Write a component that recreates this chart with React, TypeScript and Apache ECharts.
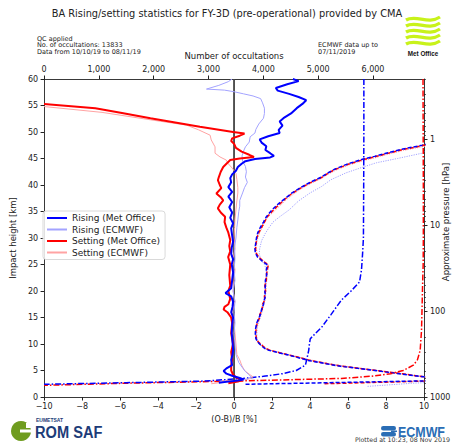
import React, { useEffect, useRef } from 'react';
import * as echarts from 'echarts';

// [km, bias %]
const risingMetOffice: number[][] = [
  [60, 3.1], [59.6, 3.4], [59.0, 2.8], [58.3, 2.2], [57.8, 2.3], [57.2, 2.9], [56.6, 3.4], [56.0, 3.8],
  [55.3, 3.6], [54.5, 3.3], [53.5, 3.0], [52.6, 2.6], [52.0, 2.4], [51.2, 2.55], [50.4, 2.35], [49.8, 2.4],
  [49.2, 1.8], [48.6, 1.35], [48.0, 1.45], [47.3, 1.7], [46.6, 1.65], [46.0, 1.9], [45.5, 2.1], [45.2, 1.9],
  [44.9, 1.1], [44.5, 0.6], [44.0, 0.4], [43.4, 0.2], [42.7, 0.1], [42.0, -0.1], [41.3, -0.2], [40.5, -0.15],
  [39.6, -0.3], [38.7, -0.1], [37.8, -0.3], [36.8, -0.1], [35.8, -0.25], [34.8, -0.1], [33.8, -0.2],
  [32.8, -0.05], [31.8, -0.15], [30.5, -0.1], [29.3, -0.05], [28.2, -0.12], [27.0, -0.15], [26.0, -0.05],
  [25.0, -0.12], [23.5, -0.05], [22.0, -0.1], [20.5, -0.15], [19.6, -0.45], [19.0, -0.15], [18.0, -0.05],
  [17.0, -0.08], [16.0, -0.15], [15.0, -0.05], [13.5, -0.1], [12.0, -0.12], [10.5, -0.08], [9.0, -0.05],
  [8.0, -0.08], [7.0, -0.15], [6.0, -0.1], [5.4, -0.4], [4.9, -0.55], [4.4, -0.4], [4.0, -0.1], [3.6, 0.3],
  [3.3, 0.5], [3.1, 0.2], [2.9, -0.3], [2.7, -0.8],
];
const risingEcmwf: number[][] = [
  [60, -0.1], [59.5, -0.3], [58.8, -0.8], [58.1, -1.45], [57.9, -0.5], [57.6, 0.0], [57.2, 0.5], [56.8, 1.0],
  [56.3, 1.4], [55.5, 1.5], [54.5, 1.6], [53.5, 1.6], [52.6, 1.55], [51.5, 1.3], [50.5, 1.15], [49.8, 1.1],
  [49.1, 0.85], [48.1, 0.8], [47.2, 0.6], [46.4, 0.5], [45.5, 0.42], [44.5, 0.45], [43.5, 0.6], [42.5, 0.65],
  [41.5, 0.6], [40.5, 0.7], [39.5, 0.55], [38.5, 0.45], [37.1, 0.3], [36.0, 0.3], [35.0, 0.25], [33.4, 0.2],
  [32.0, 0.15], [30.0, 0.1], [28.3, 0.03], [26.0, 0.05], [24.0, 0.0], [22.0, 0.05], [20.0, -0.05],
  [18.0, 0.05], [16.0, 0.0], [14.0, 0.05], [12.0, 0.0], [10.0, 0.05], [8.0, 0.1], [6.5, 0.25], [5.5, 0.45],
  [4.8, 0.6], [4.3, 0.75], [3.8, 0.9], [3.4, 0.7], [3.1, 0.0], [2.8, -0.8],
];
const settingMetOffice: number[][] = [
  [55.3, -10], [54.5, -7.3], [53.6, -5.9], [52.6, -4.4], [51.8, -3.1], [51.0, -1.8], [50.0, -0.05],
  [49.7, 0.55], [49.3, 0.3], [48.8, -0.1], [48.3, -0.15], [47.8, 0.0], [47.0, 0.1], [46.3, 0.4], [45.7, 0.8],
  [45.3, 1.05], [45.0, 0.3], [44.7, -0.2], [44.0, -0.4], [43.4, -0.57], [42.5, -0.7], [41.5, -0.8],
  [40.9, -0.85], [40.0, -0.75], [39.4, -0.67], [38.4, -0.93], [37.7, -0.7], [37.1, -0.57], [36.3, -0.75],
  [35.6, -0.85], [34.8, -0.7], [34.0, -0.47], [33.0, -0.5], [32.0, -0.41], [31.0, -0.3], [29.6, -0.2],
  [28.5, -0.25], [27.5, -0.2], [26.4, -0.31], [25.0, -0.2], [23.0, -0.25], [21.0, -0.2], [20.0, -0.3],
  [18.5, -0.2], [17.5, -0.3], [17.0, -0.5], [16.5, -0.55], [16.0, -0.35], [15.0, -0.15], [14.0, -0.1],
  [12.0, -0.15], [10.0, -0.05], [8.5, -0.15], [7.0, -0.1], [6.0, -0.15], [5.0, -0.15], [4.2, -0.05],
  [3.6, 0.15], [3.2, 0.4], [2.9, 0.2], [2.6, -0.3],
];
const settingEcmwf: number[][] = [
  [54.8, -10], [53.7, -6.95], [52.3, -4.4], [51.3, -2.5], [50.4, -1.86], [49.4, -1.26], [48.5, -1.2],
  [47.2, -1.0], [46.0, -1.0], [45.3, -0.74], [44.7, -0.41], [44.0, -0.3], [43.2, -0.1], [42.2, 0.1],
  [41.0, 0.15], [39.5, 0.2], [38.5, 0.2], [37.0, 0.15], [35.3, 0.1], [33.5, 0.05], [32.0, 0.03], [30.0, 0.0],
  [28.0, 0.05], [26.0, -0.05], [24.0, 0.05], [22.0, 0.0], [20.0, -0.05], [18.0, 0.05], [16.0, -0.1],
  [14.0, 0.0], [12.0, 0.05], [10.0, 0.1], [8.0, 0.15], [7.0, 0.3], [6.0, 0.4], [5.0, 0.55], [4.3, 0.8],
  [3.8, 1.0], [3.4, 0.8], [3.1, 0.2], [2.8, -0.6], [2.5, -1.2],
];

// [km, std dev %]
const stdRisingMetOffice: number[][] = [
  [48.5, 11.2], [47.5, 9.9], [46.8, 8.9], [46.0, 8.0], [45.4, 7.4], [44.9, 6.8], [44.0, 6.0], [43.0, 5.3],
  [42.2, 4.9], [41.5, 4.6], [40.5, 4.0], [39.5, 3.5], [38.5, 3.05], [37.5, 2.7], [36.5, 2.35], [35.3, 2.0],
  [34.0, 1.7], [33.0, 1.55], [32.1, 1.4], [31.0, 1.25], [30.0, 1.18], [29.0, 1.14], [28.0, 1.1], [27.2, 1.12],
  [26.4, 1.24], [25.6, 1.5], [24.9, 1.76], [24.0, 1.7], [23.0, 1.72], [22.0, 1.65], [21.0, 1.65], [20.0, 1.62],
  [19.0, 1.65], [18.3, 1.59], [17.5, 1.55], [16.5, 1.45], [15.5, 1.38], [15.1, 1.33], [14.0, 1.2], [13.0, 1.14],
  [12.0, 1.12], [11.0, 1.15], [10.4, 1.24], [9.8, 1.4], [9.2, 1.6], [8.8, 1.84], [8.3, 2.4], [7.8, 3.0],
  [7.2, 3.6], [6.9, 3.9], [6.3, 4.8], [5.8, 5.6], [5.4, 6.5], [4.9, 7.6], [4.4, 8.7], [3.8, 10.0], [3.5, 11.0],
  [3.05, 10.2], [2.7, 5.0], [2.4, 0.5],
];
const stdSettingMetOffice: number[][] = [
  [48.3, 11.0], [47.4, 9.9], [46.7, 8.9], [45.9, 8.0], [45.3, 7.4], [44.8, 6.8], [43.9, 6.0], [42.9, 5.3],
  [42.1, 4.9], [41.4, 4.6], [40.4, 4.0], [39.4, 3.5], [38.4, 3.05], [37.4, 2.7], [36.4, 2.4], [35.2, 2.05],
  [34.0, 1.75], [33.0, 1.6], [32.0, 1.45], [31.0, 1.3], [30.0, 1.2], [29.0, 1.16], [28.0, 1.13], [27.2, 1.15],
  [26.4, 1.3], [25.6, 1.55], [24.9, 1.8], [24.0, 1.75], [23.0, 1.7], [22.0, 1.7], [21.0, 1.62], [20.0, 1.66],
  [19.0, 1.6], [18.3, 1.62], [17.5, 1.5], [16.5, 1.48], [15.5, 1.35], [15.1, 1.36], [14.0, 1.22], [13.0, 1.16],
  [12.0, 1.14], [11.0, 1.18], [10.4, 1.27], [9.8, 1.45], [9.2, 1.65], [8.8, 1.9], [8.3, 2.45], [7.8, 3.05],
  [7.2, 3.7], [6.9, 4.0], [6.3, 4.9], [5.8, 5.7], [5.4, 6.6], [4.9, 7.7], [4.4, 8.8], [3.8, 10.0], [3.5, 11.0],
  [3.0, 10.0], [2.5, 4.7],
];
const stdRisingEcmwf: number[][] = [
  [47.0, 10.3], [46.0, 9.9], [45.0, 8.6], [44.2, 7.5], [43.4, 6.8], [42.3, 5.9], [41.0, 5.1], [39.7, 4.6],
  [38.5, 4.0], [37.0, 3.4], [35.3, 2.9], [34.0, 2.4], [33.0, 2.05], [32.0, 1.85], [30.9, 1.65], [29.5, 1.45],
  [28.0, 1.35], [27.1, 1.33], [26.0, 1.4], [25.0, 1.6], [24.0, 1.7], [22.0, 1.68], [20.0, 1.65], [18.3, 1.62],
  [16.5, 1.5], [15.0, 1.38], [13.0, 1.2], [11.0, 1.2], [10.0, 1.3], [9.0, 1.7], [8.3, 2.5], [7.2, 3.7],
  [6.3, 4.9], [5.4, 6.6], [4.4, 8.8], [3.8, 10.0], [3.5, 11.0], [2.8, 10.5], [2.6, 9.4], [2.0, 7.0],
];
const stdSettingEcmwf: number[][] = [
  [48.0, 10.8], [47.2, 9.9], [46.5, 8.9], [45.7, 8.0], [45.1, 7.4], [44.6, 6.8], [43.7, 6.0], [42.7, 5.3],
  [41.9, 4.9], [41.2, 4.6], [40.2, 4.0], [39.2, 3.5], [38.2, 3.1], [37.2, 2.75], [36.2, 2.45], [35.0, 2.1],
  [34.0, 1.8], [33.0, 1.62], [32.0, 1.5], [31.0, 1.35], [30.0, 1.25], [29.0, 1.2], [28.0, 1.18], [27.2, 1.2],
  [26.4, 1.33], [25.6, 1.6], [24.9, 1.82], [24.0, 1.78], [22.0, 1.72], [20.0, 1.68], [18.3, 1.64],
  [16.5, 1.5], [15.1, 1.4], [14.0, 1.26], [12.0, 1.18], [11.0, 1.2], [10.4, 1.3], [9.8, 1.5], [9.2, 1.7],
  [8.8, 1.95], [8.3, 2.5], [7.8, 3.1], [7.2, 3.75], [6.3, 4.95], [5.4, 6.7], [4.4, 8.9], [3.8, 10.1],
  [3.5, 11.0],
];

// [km, number of occultations]
const countRising: number[][] = [
  [60, 5833], [50, 5833], [40, 5830], [30, 5825], [27.1, 5810], [24, 5790], [21.7, 5754], [20, 5600],
  [18.3, 5425], [15.5, 5230], [13.2, 5066], [12, 4950], [11, 4856], [10, 4840], [8.8, 4827], [7.5, 4800],
  [6, 4767], [5, 4600], [4.4, 4349], [3.9, 4000], [3.5, 3630], [3.0, 2913], [2.7, 1500], [2.4, 0],
];
const countSetting: number[][] = [
  [60, 6912], [50, 6915], [40, 6918], [30, 6918], [25, 6915], [21.4, 6905], [17, 6895], [12.6, 6885],
  [8.8, 6860], [7, 6810], [6, 6735], [5, 6550], [4.4, 6320], [3.9, 5950], [3.5, 5425], [3.0, 3470],
  [2.6, 1500], [2.2, 0],
];

const zeroLine: number[][] = [[0, 0], [60, 0]];

const biasTicks = [-10, -8, -6, -4, -2, 0, 2, 4, 6, 8, 10];
const countTicks = [0, 1000, 2000, 3000, 4000, 5000, 6000];
const heightTicks = [0, 5, 10, 15, 20, 25, 30, 35, 40, 45, 50, 55, 60];
const pressureTicks = [1, 10, 100, 1000];
const pressureMinorTicks = [
  0.2, 0.3, 0.4, 0.5, 0.6, 0.7, 0.8, 0.9, 2, 3, 4, 5, 6, 7, 8, 9,
  20, 30, 40, 50, 60, 70, 80, 90, 200, 300, 400, 500, 600, 700, 800, 900,
];

const BLUE = '#0000ff';
const LBLUE = '#a3a3ff';
const RED = '#ff0000';
const LRED = '#ffa3a3';
const FONT = 'DejaVu Sans';

const toXY = (rows: number[][]) => rows.map((r) => [r[1], r[0]]);

function lineSeries(name: string, rows: number[][], color: string, width: number, type: any, xAxisIndex = 0, z = 2) {
  return {
    name,
    type: 'line',
    data: toXY(rows),
    xAxisIndex,
    yAxisIndex: 0,
    symbol: 'none',
    showSymbol: false,
    silent: true,
    clip: true,
    z,
    lineStyle: { color, width, type },
    itemStyle: { color },
  };
}

const minus = (v: number) => (v < 0 ? '\u2212' + Math.abs(v) : String(v));

export default function App() {
  const ref = useRef<HTMLDivElement>(null);
  useEffect(() => {
    if (!ref.current) return;
    const chart = echarts.init(ref.current, null, { renderer: 'svg' });
    const axisText = { fontSize: 8, color: '#222', fontFamily: FONT };
    const axisLine = { show: true, onZero: false, lineStyle: { color: '#222', width: 0.9 } };
    const dashDot = [6, 2, 1.5, 2];
    const option: any = {
      animation: false,
      textStyle: { fontFamily: FONT },
      grid: { left: 38, right: 30, top: 79, bottom: 46, containLabel: false },
      legend: {
        left: 43,
        top: 211,
        orient: 'vertical',
        data: ['Rising (Met Office)', 'Rising (ECMWF)', 'Setting (Met Office)', 'Setting (ECMWF)'],
        itemWidth: 20,
        itemHeight: 8,
        itemGap: 2.5,
        padding: [2.5, 5, 2.5, 3],
        itemStyle: { opacity: 0 },
        borderColor: '#cfcfcf',
        borderWidth: 0.8,
        borderRadius: 3,
        backgroundColor: 'rgba(255,255,255,0.85)',
        textStyle: { fontSize: 9, color: '#222', fontFamily: FONT },
      },
      xAxis: [
        {
          type: 'value', position: 'bottom', min: -10, max: 10, interval: 2,
          axisLine, splitLine: { show: false },
          axisTick: { show: true, inside: false, length: 3.5, lineStyle: { color: '#222' }, customValues: biasTicks },
          axisLabel: { ...axisText, margin: 5, formatter: minus, customValues: biasTicks },
          name: '(O-B)/B [%]', nameLocation: 'middle', nameGap: 18,
          nameTextStyle: { fontSize: 8, color: '#222', fontFamily: FONT },
        },
        {
          type: 'value', position: 'top', min: 0, max: 6930,
          axisLine, splitLine: { show: false },
          axisTick: { show: true, inside: false, length: 3.5, lineStyle: { color: '#222' }, customValues: countTicks },
          axisLabel: { ...axisText, margin: 6, customValues: countTicks },
          name: 'Number of occultations', nameLocation: 'middle', nameGap: 17,
          nameTextStyle: { fontSize: 8.5, color: '#222', fontFamily: FONT },
        },
      ],
      yAxis: [
        {
          type: 'value', position: 'left', min: 0, max: 60, interval: 5,
          axisLine, splitLine: { show: false },
          axisTick: { show: true, inside: false, length: 3.5, lineStyle: { color: '#222' }, customValues: heightTicks },
          axisLabel: { ...axisText, margin: 6, customValues: heightTicks },
          name: 'Impact height [km]', nameLocation: 'middle', nameGap: 22, nameRotate: 90,
          nameTextStyle: { fontSize: 8.5, color: '#222', fontFamily: FONT },
        },
        {
          type: 'log', logBase: 10, position: 'right', inverse: true, min: 0.2, max: 1000,
          axisLine, splitLine: { show: false },
          axisTick: { show: true, inside: false, length: 3.5, lineStyle: { color: '#222' }, customValues: pressureTicks },
          axisLabel: { ...axisText, margin: 6, customValues: pressureTicks, formatter: (v: number) => String(Math.round(v)) },
        },
        {
          type: 'log', logBase: 10, position: 'right', inverse: true, min: 0.2, max: 1000,
          axisLine: { show: false, onZero: false }, splitLine: { show: false },
          axisTick: { show: true, inside: false, length: 2, lineStyle: { color: '#222', width: 0.7 }, customValues: pressureMinorTicks },
          axisLabel: { show: false },
        },
      ],
      series: [
        lineSeries('std setting ecmwf', stdSettingEcmwf, LRED, 1, [1.2, 1.2]),
        lineSeries('std rising ecmwf', stdRisingEcmwf, LBLUE, 1, [1.2, 1.2]),
        lineSeries('std setting mo', stdSettingMetOffice, RED, 1.5, [4, 2]),
        lineSeries('std rising mo', stdRisingMetOffice, BLUE, 1.5, [4, 2]),
        lineSeries('count setting', countSetting, RED, 1.5, dashDot, 1),
        lineSeries('count rising', countRising, BLUE, 1.5, dashDot, 1),
        lineSeries('zero', zeroLine, '#444444', 1.8, 'solid'),
        lineSeries('Setting (ECMWF)', settingEcmwf, LRED, 1, 'solid'),
        lineSeries('Rising (ECMWF)', risingEcmwf, LBLUE, 1, 'solid'),
        lineSeries('Setting (Met Office)', settingMetOffice, RED, 2, 'solid'),
        lineSeries('Rising (Met Office)', risingMetOffice, BLUE, 2, 'solid'),
      ],
      graphic: [
        {
          type: 'text', x: 227, y: 13,
          style: { text: 'BA Rising/setting statistics for FY-3D (pre-operational) provided by CMA', fontSize: 9.8, fontFamily: FONT, fill: '#222', align: 'center', verticalAlign: 'middle', textAlign: 'center', textVerticalAlign: 'middle' },
        },
        { type: 'text', x: 37, y: 38.5, style: { text: 'QC applied', fontSize: 6.5, fontFamily: FONT, fill: '#222', verticalAlign: 'middle', textVerticalAlign: 'middle' } },
        { type: 'text', x: 37, y: 45, style: { text: 'No. of occultations: 13833', fontSize: 6.5, fontFamily: FONT, fill: '#222', verticalAlign: 'middle', textVerticalAlign: 'middle' } },
        { type: 'text', x: 37, y: 52, style: { text: 'Data from 10/10/19 to 08/11/19', fontSize: 6.5, fontFamily: FONT, fill: '#222', verticalAlign: 'middle', textVerticalAlign: 'middle' } },
        { type: 'text', x: 318, y: 45, style: { text: 'ECMWF data up to', fontSize: 6.5, fontFamily: FONT, fill: '#222', verticalAlign: 'middle', textVerticalAlign: 'middle' } },
        { type: 'text', x: 318, y: 52, style: { text: '07/11/2019', fontSize: 6.5, fontFamily: FONT, fill: '#222', verticalAlign: 'middle', textVerticalAlign: 'middle' } },
        {
          type: 'text', x: 446, y: 222, rotation: Math.PI / 2,
          style: { text: 'Approximate pressure [hPa]', fontSize: 8.5, fontFamily: FONT, fill: '#222', align: 'center', verticalAlign: 'middle', textAlign: 'center', textVerticalAlign: 'middle' },
        },
        // Met Office logo
        ...[19, 25, 31, 37, 43].map((y) => ({
          type: 'bezierCurve',
          shape: { x1: 406, y1: y + 1, cpx1: 416, cpy1: y - 5, cpx2: 428, cpy2: y + 6, x2: 440, y2: y - 2 },
          style: { stroke: '#c8f21a', lineWidth: 3.3, fill: 'none' },
        })),
        { type: 'text', x: 423, y: 53, style: { text: 'Met Office', fontSize: 6.3, fontWeight: 'bold', fontFamily: 'Liberation Sans', fill: '#111', align: 'center', verticalAlign: 'middle', textAlign: 'center', textVerticalAlign: 'middle' } },
        // ROM SAF logo
        { type: 'circle', shape: { cx: 21, cy: 431, r: 10 }, style: { fill: '#6f9c1f' } },
        { type: 'rect', shape: { x: 20, y: 429.5, width: 13, height: 3 }, style: { fill: '#ffffff' } },
        { type: 'rect', shape: { x: 26, y: 423, width: 7, height: 5 }, style: { fill: '#ffffff' } },
        { type: 'text', x: 36, y: 420, style: { text: 'EUMETSAT', fontSize: 5, fontWeight: 'bold', fontFamily: 'Liberation Sans', fill: '#1d3c78', verticalAlign: 'middle', textVerticalAlign: 'middle' } },
        { type: 'text', x: 35, y: 432.5, scaleX: 0.86, style: { text: 'ROM SAF', fontSize: 17, fontWeight: 'bold', fontFamily: 'Liberation Sans', fill: '#1d3c78', verticalAlign: 'middle', textVerticalAlign: 'middle' } },
        // ECMWF logo
        { type: 'rect', shape: { x: 381, y: 426, width: 15, height: 4.5, r: 2.2 }, style: { fill: '#2a6db5' } },
        { type: 'rect', shape: { x: 381, y: 432, width: 15, height: 4.5, r: 2.2 }, style: { fill: '#2a6db5' } },
        { type: 'rect', shape: { x: 391, y: 430.5, width: 6, height: 1.5 }, style: { fill: '#2a6db5' } },
        { type: 'text', x: 398, y: 432, scaleX: 0.83, style: { text: 'ECMWF', fontSize: 15, fontWeight: 'bold', fontFamily: 'Liberation Sans', fill: '#2a6db5', verticalAlign: 'middle', textVerticalAlign: 'middle' } },
        { type: 'text', x: 450, y: 439.5, style: { text: 'Plotted at 10:23, 08 Nov 2019', fontSize: 6.3, fontFamily: FONT, fill: '#333', align: 'right', verticalAlign: 'middle', textAlign: 'right', textVerticalAlign: 'middle' } },
      ],
    };
    chart.setOption(option);
    return () => chart.dispose();
  }, []);
  return <div ref={ref} style={{ position: 'fixed', left: 0, top: 0, width: 454, height: 443, background: '#fff' }} />;
}
